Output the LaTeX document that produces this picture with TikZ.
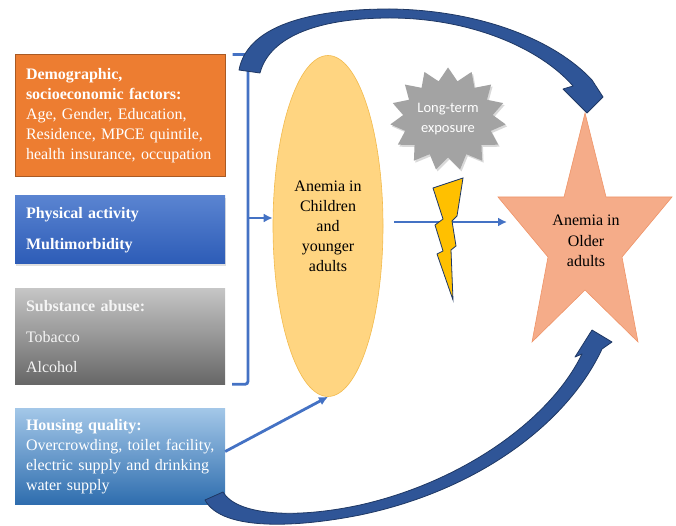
\documentclass[tikz,border=0pt]{standalone}
\usepackage{fontspec}
\setmainfont{Liberation Serif}
\newfontfamily\calibrifont{Carlito}
\usepackage{tikz}
\usetikzlibrary{positioning, shapes.geometric, shapes.symbols, shadows, arrows.meta}

\definecolor{demoorange}{HTML}{ED7D31}
\definecolor{demoedge}{HTML}{A95A24}
\definecolor{physTop}{HTML}{5A84D1}
\definecolor{physBot}{HTML}{2D5CB7}
\definecolor{substTop}{HTML}{C6C6C6}
\definecolor{substBot}{HTML}{676767}
\definecolor{houseTop}{HTML}{A3C7E8}
\definecolor{houseBot}{HTML}{2E6DAE}
\definecolor{flowblue}{HTML}{4472C4}
\definecolor{bigblue}{HTML}{2F5597}
\definecolor{bigedge}{HTML}{1F3864}
\definecolor{childfill}{HTML}{FFD581}
\definecolor{childedge}{HTML}{F2BA4C}
\definecolor{olderfill}{HTML}{F5AC89}
\definecolor{olderedge}{HTML}{EF9468}
\definecolor{boltfill}{HTML}{FFC000}
\definecolor{burstgray}{HTML}{A3A3A3}

\begin{document}
\begin{tikzpicture}[x=1pt, y=-1pt]

  \tikzstyle{factor}=[minimum width=210pt, text width=188pt, inner xsep=11pt,
    align=left, text=white, font=\fontsize{16}{20}\selectfont]
  \tikzstyle{flow}=[draw=flowblue, line width=2.8pt, -{Latex[length=9pt, width=9pt]}]
  \tikzstyle{bigarrow}=[fill=bigblue, draw=bigedge, line width=0.8pt, line join=round]

  \useasboundingbox (0,0) rectangle (676,526);

  % factor boxes on the left
  \node [factor, fill=demoorange, draw=demoedge, line width=1pt, minimum height=122pt] (demo) at (120,116) {
    \textbf{Demographic,}\\
    \textbf{socioeconomic factors:}\\
    Age, Gender, Education,\\
    Residence, MPCE quintile,\\
    health insurance, occupation
  };
  \node [factor, top color=physTop, bottom color=physBot, minimum height=68pt,
    drop shadow={opacity=0.25, shadow xshift=1pt, shadow yshift=-2pt},
    below = 18pt of demo] (phys) {
    \textbf{Physical activity}\\[11pt]
    \textbf{Multimorbidity}
  };
  \node [factor, top color=substTop, bottom color=substBot, minimum height=96pt,
    text=white!92!gray, below = 24pt of phys] (subst) {
    \textbf{Substance abuse:}\\[11pt]
    Tobacco\\[10pt]
    Alcohol
  };
  \node [factor, top color=houseTop, bottom color=houseBot, minimum height=96pt,
    below = 24pt of subst] (house) {
    \textbf{Housing quality:}\\
    \mbox{Overcrowding, toilet facility,}\\
    \mbox{electric supply and drinking}\\
    water supply
  };

  % outcomes
  \node [ellipse, minimum width=110pt, minimum height=341pt, fill=childfill,
    draw=childedge, line width=0.6pt, align=center,
    font=\fontsize{16}{20}\selectfont] (child) at (328,226) {
    Anemia in\\Children\\and\\younger\\adults
  };

  \fill [olderfill, draw=olderedge, line width=0.6pt, line join=miter]
    (585,113) -- (606,197) -- (672,197) -- (622,257) -- (638,342) -- (585,290)
    -- (532,342) -- (548,257) -- (498,197) -- (564,197) -- cycle;
  \node [align=center, font=\fontsize{16}{20.5}\selectfont] (older) at (586,241) {
    Anemia in\\Older\\adults
  };

  \node [starburst, starburst points=15, starburst point height=13pt,
    random starburst=0, minimum width=116pt, minimum height=103pt,
    fill=burstgray, text=white, align=center, inner sep=0pt,
    drop shadow={opacity=0.3, shadow xshift=1.5pt, shadow yshift=-2pt},
    font=\calibrifont\fontsize{14.5}{20}\selectfont] (expo) at (448,119) {
    Long-term\\exposure
  };

  % bracket gathering the first three boxes
  \coordinate (brtop) at ([xshift=7pt]demo.north east);
  \coordinate (brmid) at (248,218);
  \draw [flowblue, line width=2.8pt, rounded corners=3pt]
    (brtop) -- (brtop -| brmid) |- ([xshift=7pt]subst.south east);
  \draw [flow] (brmid) -- (brmid -| child.west);

  \draw [flow] ([yshift=5pt]house.east) -- (child.south);

  \coordinate (olderL) at (507,222);
  \draw [flow, shorten <=11pt] (child.east |- olderL) -- (olderL);

  % lightning over the exposure arrow
  \filldraw [fill=boltfill, draw=bigedge, line width=0.8pt, line join=miter]
    (433,188) -- (463,178) -- (457,216) -- (452,221) -- (456,246) -- (451,250)
    -- (453,300) -- (437,254) -- (443,251) -- (435,225) -- (443,219) -- cycle;

  % direct effects, curved block arrows
  \filldraw [bigarrow]
    (239,70) .. controls (248,22) and (320,9) .. (390,9)
    .. controls (480,10) and (555,40) .. (592,80)
    -- (603,97) -- (587,113) -- (563,89) -- (573,86)
    .. controls (540,48) and (470,18) .. (390,18)
    .. controls (322,18) and (270,35) .. (260,73) -- cycle;
  \filldraw [bigarrow]
    (205,500) .. controls (222,532) and (300,527) .. (360,515)
    .. controls (480,490) and (568,422) .. (602,349)
    -- (612,342) -- (592,330) -- (575,357) -- (582,354)
    .. controls (550,420) and (462,482) .. (360,505)
    .. controls (290,520) and (236,514) .. (223,492) -- cycle;

\end{tikzpicture}
\end{document}
